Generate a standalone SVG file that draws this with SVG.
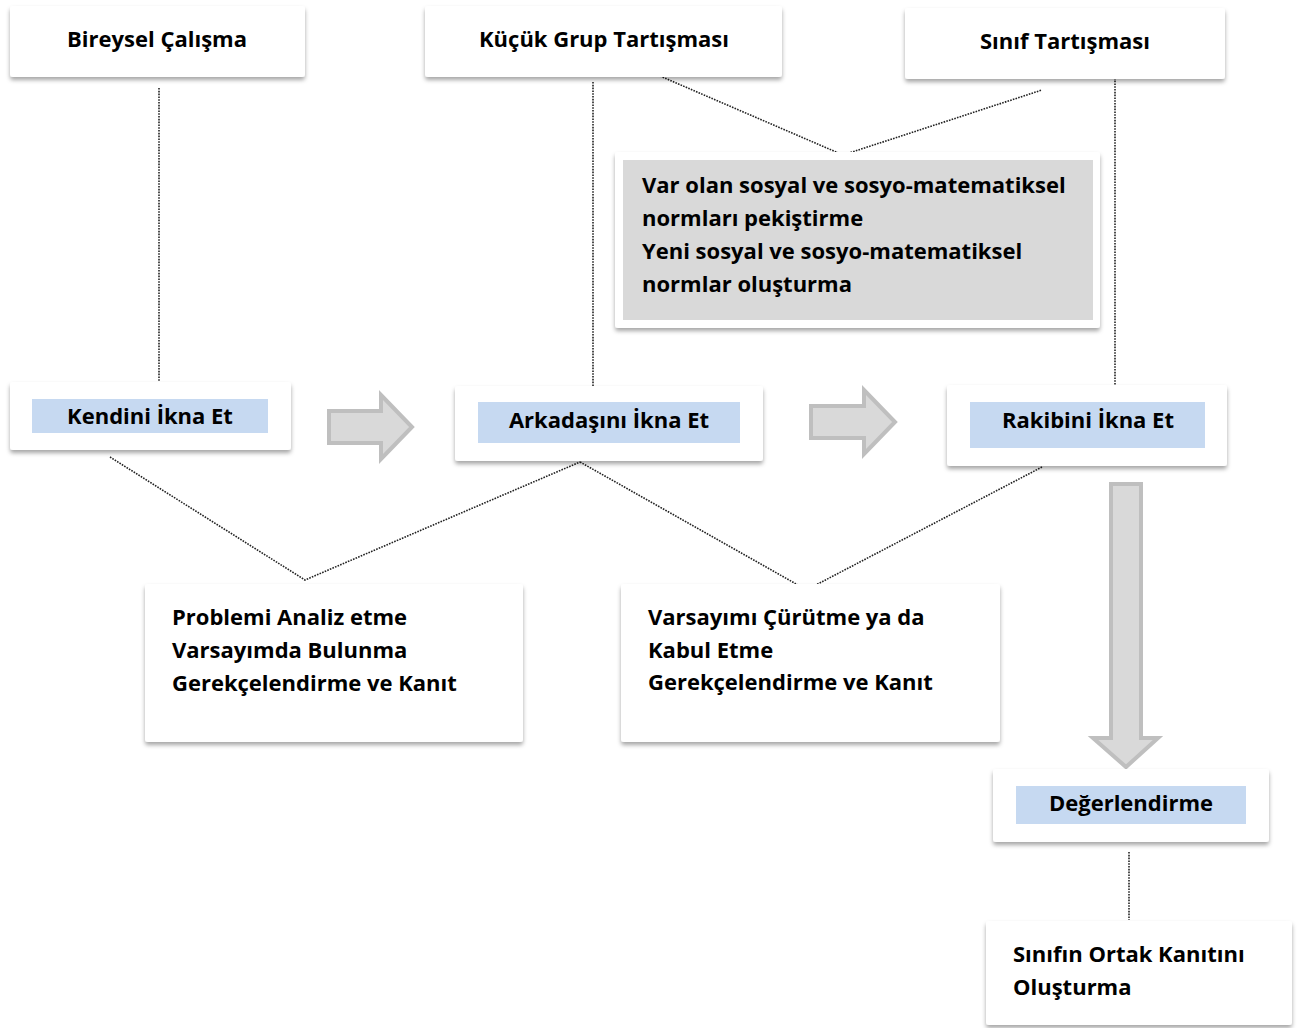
<svg xmlns="http://www.w3.org/2000/svg" width="1297" height="1028" viewBox="0 0 1297 1028">
<defs>
<filter id="sh" x="-10%" y="-20%" width="120%" height="150%">
<feDropShadow dx="0" dy="3" stdDeviation="2" flood-color="#000" flood-opacity="0.35"/>
</filter>
<style>
.box{fill:#fff;filter:url(#sh)}
.band{fill:#c6d9f1}
.gray{fill:#d9d9d9}
text{font-family:"Open Sans","Liberation Sans",sans-serif;font-weight:bold;font-size:22px;fill:#000}
.c{text-anchor:middle}
.dot{fill:none;stroke:#222;stroke-width:1.6;stroke-dasharray:1.6 1.2}
.arr{fill:#d9d9d9;stroke:#bfbfbf;stroke-width:4;stroke-linejoin:miter}
</style>
</defs>
<rect width="1297" height="1028" fill="#fff"/>
<g id="connectors">
<line class="dot" x1="159" y1="88" x2="159" y2="395"/>
<line class="dot" x1="593" y1="82" x2="593" y2="395"/>
<line class="dot" x1="1115" y1="75" x2="1115" y2="402"/>
<polyline class="dot" points="660,76 843,155 1042,90"/>
<polyline class="dot" points="110,457 305,580 580,462"/>
<polyline class="dot" points="580,462 798,585"/>
<polyline class="dot" points="1042,467 812,587"/>
<line class="dot" x1="1129" y1="852" x2="1129" y2="920"/>
</g>
<g id="n-bireysel"><rect class="box" x="10" y="6" width="295" height="71" rx="3"/><text class="c" x="157" y="47">Bireysel Çalışma</text></g>
<g id="n-kucuk"><rect class="box" x="425" y="6" width="357" height="71" rx="3"/><text class="c" x="604" y="47">Küçük Grup Tartışması</text></g>
<g id="n-sinif"><rect class="box" x="905" y="8" width="320" height="71" rx="3"/><text class="c" x="1065" y="49">Sınıf Tartışması</text></g>
<g id="n-normlar"><rect class="box" x="615" y="152" width="485" height="176" rx="3"/><rect class="gray" x="623" y="160" width="470" height="160"/>
<text x="642" y="193">Var olan sosyal ve sosyo-matematiksel</text>
<text x="642" y="226">normları pekiştirme</text>
<text x="642" y="259">Yeni sosyal ve sosyo-matematiksel</text>
<text x="642" y="292">normlar oluşturma</text></g>
<g id="n-kendini"><rect class="box" x="10" y="382" width="281" height="68" rx="3"/><rect class="band" x="32" y="399" width="236" height="34"/><text class="c" x="150" y="424">Kendini İkna Et</text></g>
<g id="n-arkadas"><rect class="box" x="455" y="386" width="308" height="75" rx="3"/><rect class="band" x="478" y="402" width="262" height="41"/><text class="c" x="609" y="428">Arkadaşını İkna Et</text></g>
<g id="n-rakip"><rect class="box" x="947" y="385" width="280" height="81" rx="3"/><rect class="band" x="970" y="402" width="235" height="46"/><text class="c" x="1088" y="428">Rakibini İkna Et</text></g>
<g id="arrow1"><polygon class="arr" points="329,411 381,411 381,395 412,427 381,459 381,443 329,443"/></g>
<g id="arrow2"><polygon class="arr" points="811,406 864,406 864,390 895,422 864,454 864,438 811,438"/></g>
<g id="arrow3"><polygon class="arr" points="1111,484 1141,484 1141,738 1158,738 1126,767 1093,738 1111,738"/></g>
<g id="n-problem"><rect class="box" x="145" y="584" width="378" height="158" rx="3"/>
<text x="172" y="625">Problemi Analiz etme</text>
<text x="172" y="658">Varsayımda Bulunma</text>
<text x="172" y="691">Gerekçelendirme ve Kanıt</text></g>
<g id="n-varsayim"><rect class="box" x="621" y="584" width="379" height="158" rx="3"/>
<text x="648" y="625">Varsayımı Çürütme ya da</text>
<text x="648" y="658">Kabul Etme</text>
<text x="648" y="690">Gerekçelendirme ve Kanıt</text></g>
<g id="n-deger"><rect class="box" x="993" y="769" width="276" height="73" rx="3"/><rect class="band" x="1016" y="786" width="230" height="38"/><text class="c" x="1131" y="811">Değerlendirme</text></g>
<g id="n-ortak"><rect class="box" x="986" y="921" width="306" height="104" rx="3"/>
<text x="1013" y="962">Sınıfın Ortak Kanıtını</text>
<text x="1013" y="995">Oluşturma</text></g>
</svg>
